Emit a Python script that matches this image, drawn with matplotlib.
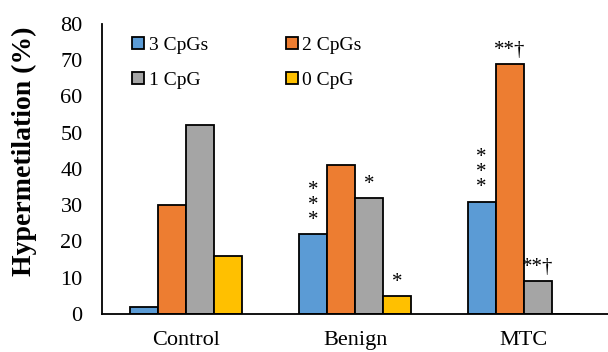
import numpy as np
import matplotlib.pyplot as plt

# -------------------------------
# Data
# -------------------------------
groups = ["Control", "Benign", "MTC"]
series = ["3 CpGs", "2 CpGs", "1 CpG", "0 CpG"]
cpg3 = [2, 22, 31]
cpg2 = [30, 41, 69]
cpg1 = [52, 32, 9]
cpg0 = [16, 5, 0]
colors = ["#5B9BD5", "#ED7D31", "#A5A5A5", "#FFC000"]

# significance marks: (group index, series index, text)
marks = [
    (1, 0, "*\n*\n*"), (1, 2, "*"), (1, 3, "*"),
    (2, 0, "*\n*\n*"), (2, 1, "**†"), (2, 2, "**†"),
]

plt.rcParams["font.family"] = ["Liberation Serif", "DejaVu Serif"]

fig = plt.figure(figsize=(6.08, 3.52), dpi=100)
ax = fig.add_axes([0.168, 0.108, 0.832, 0.824])

x = np.arange(len(groups))
w = 0.166
values = [cpg3, cpg2, cpg1, cpg0]
handles = []
for i, (vals, lab, c) in enumerate(zip(values, series, colors)):
    b = ax.bar(x + (i - 1.5) * w, vals, width=w, color=c, edgecolor="black",
               linewidth=1.3, label=lab)
    handles.append(b)

for g, s, txt in marks:
    v = values[s][g]
    ax.annotate(txt, (x[g] + (s - 1.5) * w, v), xytext=(0, 3),
                textcoords="offset points", ha="center", va="bottom",
                fontsize=15, linespacing=0.72)

ax.set_xlim(-0.5, 2.5)
ax.set_ylim(0, 80)
ax.set_yticks(range(0, 81, 10))
ax.set_xticks(x)
ax.set_xticklabels(groups)
ax.tick_params(length=0, labelsize=16)
ax.tick_params(axis="y", pad=14)
ax.tick_params(axis="x", pad=12)
ax.spines["top"].set_visible(False)
ax.spines["right"].set_visible(False)
ax.spines["left"].set_linewidth(1.3)
ax.spines["bottom"].set_linewidth(1.3)
ax.set_ylabel("Hypermetilation (%)", fontsize=20, fontweight="bold")
ax.yaxis.set_label_coords(-0.128, 0.562)

# row-wise legend order: 3, 2 / 1, 0
order = [0, 2, 1, 3]
ax.legend([handles[k] for k in order], [series[k] for k in order],
          ncol=2, loc="upper left", bbox_to_anchor=(0.025, 1.015), frameon=False,
          fontsize=14, handlelength=0.6, handleheight=0.6, handletextpad=0.25,
          columnspacing=4.0, labelspacing=0.9)

fig.savefig("out.png", dpi=100)
